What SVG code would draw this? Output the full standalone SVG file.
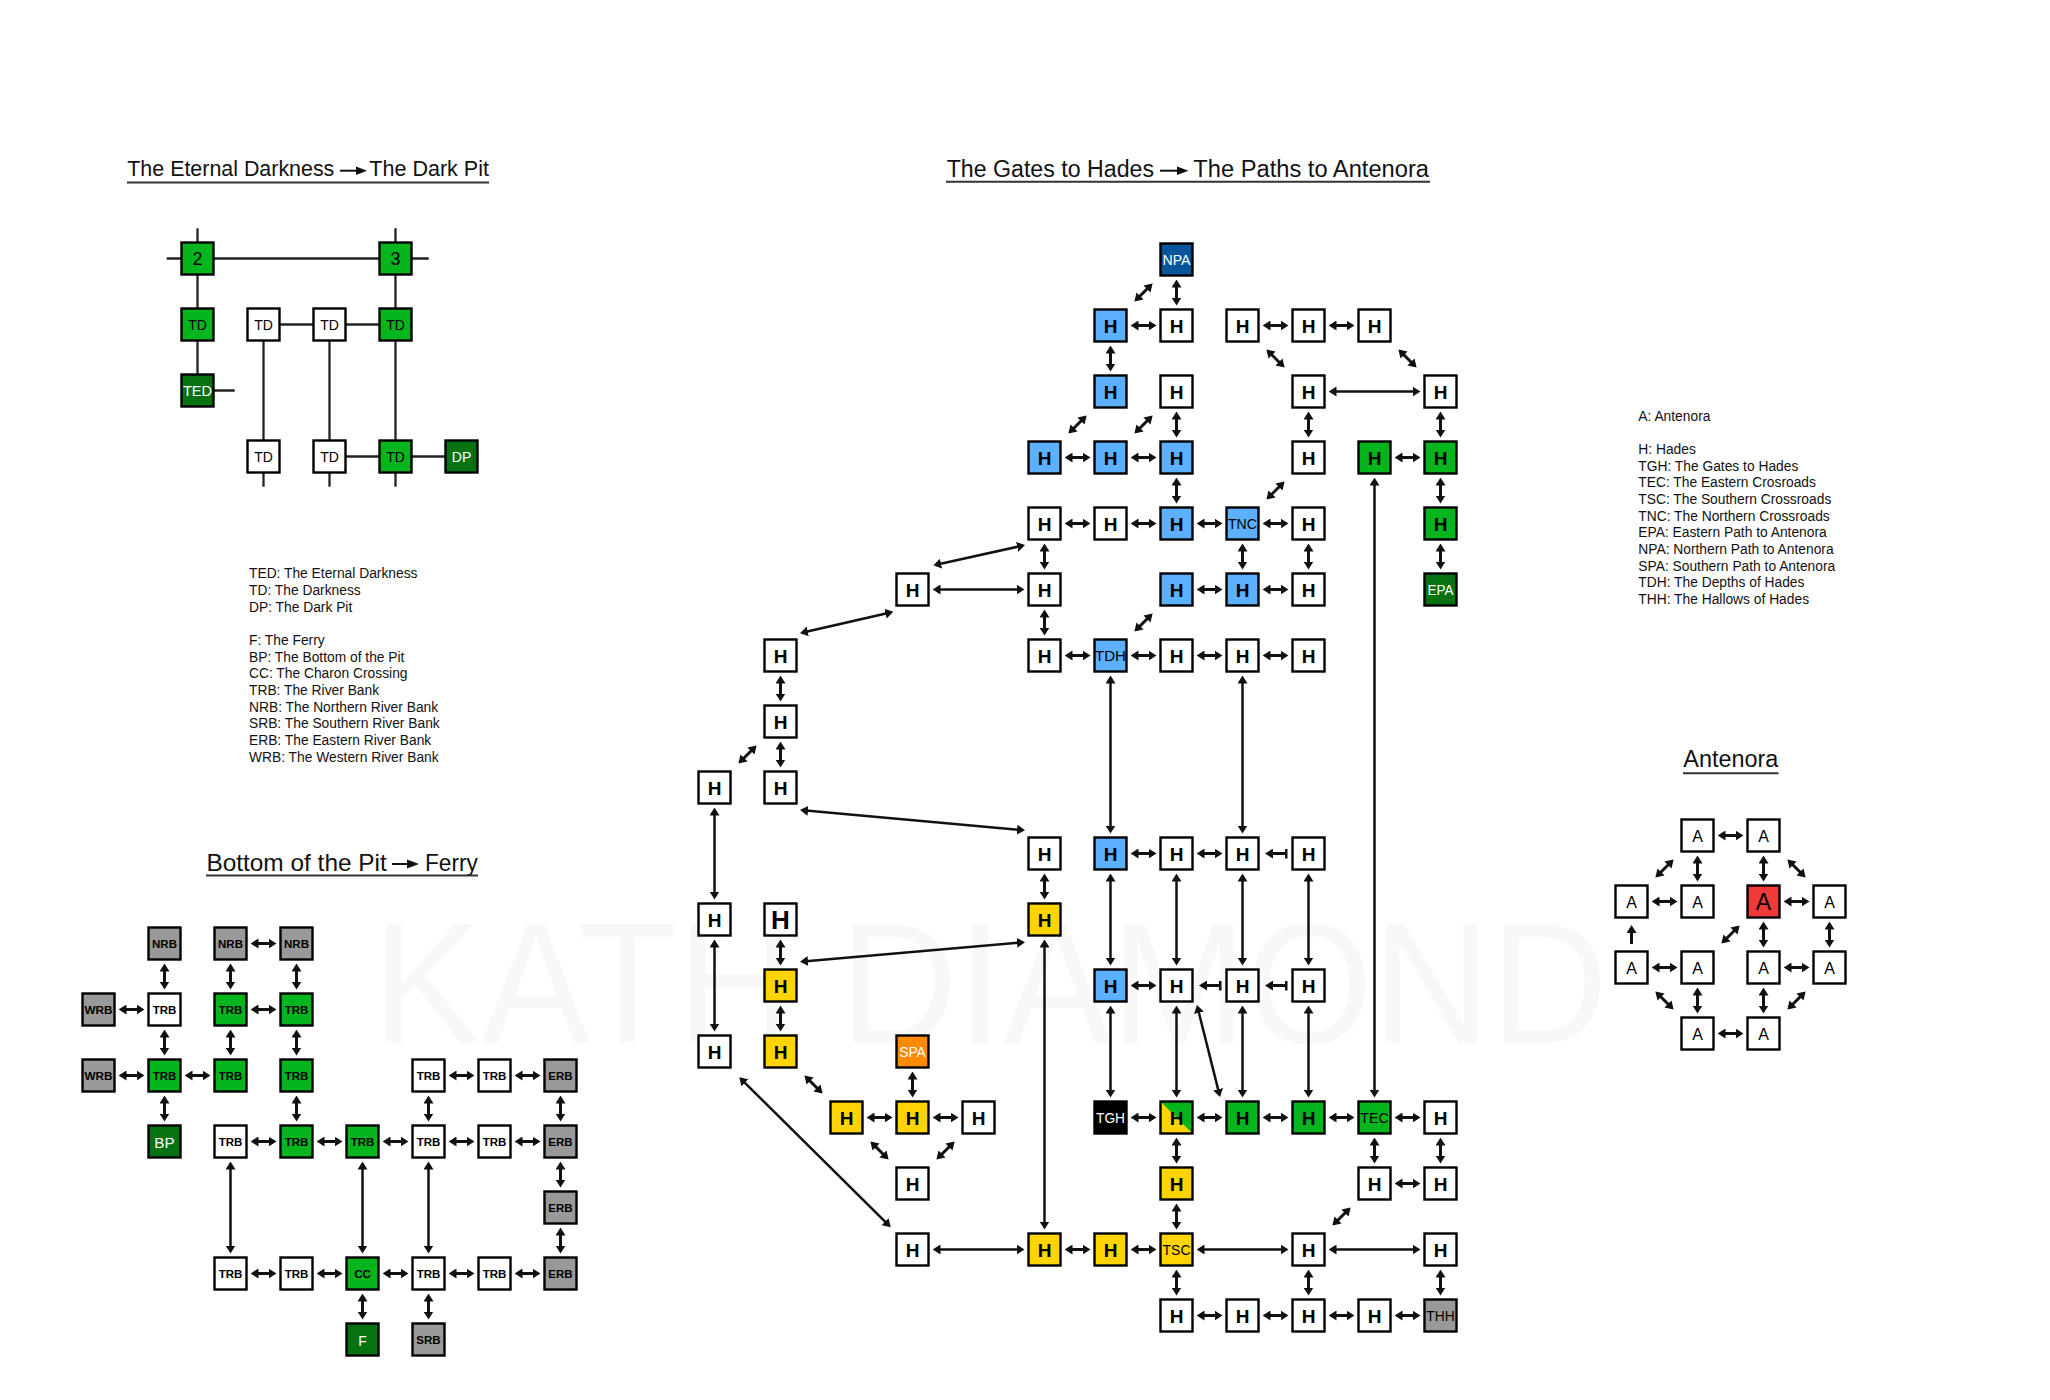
<svg xmlns="http://www.w3.org/2000/svg" width="2050" height="1400" viewBox="0 0 2050 1400">
<defs>
<marker id="ah" viewBox="0 0 8 10" refX="5" refY="5" markerWidth="8" markerHeight="10" markerUnits="userSpaceOnUse" orient="auto-start-reverse"><path d="M0,0 L8,5 L0,10 z" fill="#111"/></marker>
<marker id="bar" viewBox="0 0 3 10" refX="1.5" refY="5" markerWidth="3" markerHeight="10" markerUnits="userSpaceOnUse" orient="auto"><rect width="3" height="10" fill="#111"/></marker>
<style>
text{font-family:'Liberation Sans',Arial,sans-serif}
.n rect,.n polygon.o{stroke:#000;stroke-width:2.4}
.w{fill:#fff}.b{fill:#5cb0ff}.g{fill:#05b51d}.dg{fill:#067212}.db{fill:#08559b}.y{fill:#ffd400}.o{fill:#ff8a00}.k{fill:#000}.gr{fill:#999}.r{fill:#f33a3a}
.ol{fill:none}
.h{font-size:19px;font-weight:bold;text-anchor:middle;fill:#000}
.hb{font-size:26px;font-weight:bold;text-anchor:middle;fill:#000}
.l{font-size:15px;text-anchor:middle;fill:#000}
.lw{font-size:14px;text-anchor:middle;fill:#fff}
.s{font-size:11.5px;font-weight:bold;text-anchor:middle;fill:#000}
.td{font-size:14px;text-anchor:middle;fill:#000}
.num{font-size:18px;text-anchor:middle;fill:#000}
.a{font-size:16px;text-anchor:middle;fill:#000}
.ab{font-size:23px;text-anchor:middle;fill:#000}
.leg{font-size:13.8px;fill:#111}
.ttl{fill:#111}
.ul{stroke:#333;stroke-width:2}
.ta{stroke:#111;stroke-width:2}
.c{stroke:#111;stroke-width:3;fill:none;marker-start:url(#ah);marker-end:url(#ah)}
.cl{stroke-width:2.5}
.one{marker-start:none}
.br{marker-start:url(#bar)}
.p{stroke:#222;stroke-width:2.3}
.wm{font-size:172px;fill:#f8f8f8}
</style>
</defs>
<rect width="2050" height="1400" fill="#fff"/>
<text class="wm" x="373" y="1043" textLength="1235" lengthAdjust="spacingAndGlyphs">KATH DIAMOND</text>

<g id="titles">
<text class="ttl" x="127.3" y="176.3" font-size="22" textLength="207" lengthAdjust="spacingAndGlyphs">The Eternal Darkness</text>
<line class="ta" x1="340" y1="170.7" x2="358" y2="170.7"/><polygon points="356,166.5 367,170.7 356,175" fill="#111"/>
<text class="ttl" x="369.3" y="176.3" font-size="22" textLength="119.7" lengthAdjust="spacingAndGlyphs">The Dark Pit</text>
<line class="ul" x1="127" y1="182.5" x2="489" y2="182.5"/>

<text class="ttl" x="946.7" y="176.7" font-size="23" textLength="207.3" lengthAdjust="spacingAndGlyphs">The Gates to Hades</text>
<line class="ta" x1="1160" y1="170.7" x2="1179" y2="170.7"/><polygon points="1177,166.5 1188.5,170.7 1177,175" fill="#111"/>
<text class="ttl" x="1193.3" y="176.7" font-size="23" textLength="235.7" lengthAdjust="spacingAndGlyphs">The Paths to Antenora</text>
<line class="ul" x1="946" y1="181.7" x2="1430" y2="181.7"/>

<text class="ttl" x="206.4" y="870.7" font-size="24.5" textLength="180.4" lengthAdjust="spacingAndGlyphs">Bottom of the Pit</text>
<line class="ta" x1="392" y1="864" x2="409" y2="864"/><polygon points="407,859.5 419,864 407,868.5" fill="#111"/>
<text class="ttl" x="425" y="870.7" font-size="24.5" textLength="52.9" lengthAdjust="spacingAndGlyphs">Ferry</text>
<line class="ul" x1="206" y1="875.5" x2="478" y2="875.5"/>

<text class="ttl" x="1683.3" y="767.3" font-size="23.5" textLength="95" lengthAdjust="spacingAndGlyphs">Antenora</text>
<line class="ul" x1="1683" y1="773.3" x2="1778.5" y2="773.3"/>
</g>

<g id="legend-left">
<text x="249" y="578.3" class="leg">TED: The Eternal Darkness</text>
<text x="249" y="595" class="leg">TD: The Darkness</text>
<text x="249" y="611.7" class="leg">DP: The Dark Pit</text>
<text x="249" y="645" class="leg">F: The Ferry</text>
<text x="249" y="661.7" class="leg">BP: The Bottom of the Pit</text>
<text x="249" y="678.3" class="leg">CC: The Charon Crossing</text>
<text x="249" y="695" class="leg">TRB: The River Bank</text>
<text x="249" y="711.7" class="leg">NRB: The Northern River Bank</text>
<text x="249" y="728.3" class="leg">SRB: The Southern River Bank</text>
<text x="249" y="745" class="leg">ERB: The Eastern River Bank</text>
<text x="249" y="761.7" class="leg">WRB: The Western River Bank</text>
</g>
<g id="legend-right">
<text x="1638.3" y="420.7" class="leg">A: Antenora</text>
<text x="1638.3" y="454" class="leg">H: Hades</text>
<text x="1638.3" y="470.7" class="leg">TGH: The Gates to Hades</text>
<text x="1638.3" y="487.3" class="leg">TEC: The Eastern Crosroads</text>
<text x="1638.3" y="504" class="leg">TSC: The Southern Crossroads</text>
<text x="1638.3" y="520.7" class="leg">TNC: The Northern Crossroads</text>
<text x="1638.3" y="537.3" class="leg">EPA: Eastern Path to Antenora</text>
<text x="1638.3" y="554" class="leg">NPA: Northern Path to Antenora</text>
<text x="1638.3" y="570.7" class="leg">SPA: Southern Path to Antenora</text>
<text x="1638.3" y="587.3" class="leg">TDH: The Depths of Hades</text>
<text x="1638.3" y="604" class="leg">THH: The Hallows of Hades</text>
</g>

<g id="connectors">
<line class="p" x1="166.7" y1="258.5" x2="428.7" y2="258.5"/>
<line class="p" x1="197.5" y1="228.3" x2="197.5" y2="390.5"/>
<line class="p" x1="395.5" y1="228.3" x2="395.5" y2="486.7"/>
<line class="p" x1="197.5" y1="390.5" x2="234.7" y2="390.5"/>
<line class="p" x1="263.5" y1="324.5" x2="263.5" y2="486.7"/>
<line class="p" x1="329.5" y1="324.5" x2="329.5" y2="486.7"/>
<line class="p" x1="263.5" y1="324.5" x2="395.5" y2="324.5"/>
<line class="p" x1="329.5" y1="456.5" x2="461.5" y2="456.5"/>

<line class="c" x1="1133.5" y1="325.5" x2="1153.5" y2="325.5"/>
<line class="c" x1="1265.5" y1="325.5" x2="1285.5" y2="325.5"/>
<line class="c" x1="1331.5" y1="325.5" x2="1351.5" y2="325.5"/>
<line class="c" x1="1067.5" y1="457.5" x2="1087.5" y2="457.5"/>
<line class="c" x1="1133.5" y1="457.5" x2="1153.5" y2="457.5"/>
<line class="c" x1="1397.5" y1="457.5" x2="1417.5" y2="457.5"/>
<line class="c" x1="1067.5" y1="523.5" x2="1087.5" y2="523.5"/>
<line class="c" x1="1133.5" y1="523.5" x2="1153.5" y2="523.5"/>
<line class="c" x1="1199.5" y1="523.5" x2="1219.5" y2="523.5"/>
<line class="c" x1="1265.5" y1="523.5" x2="1285.5" y2="523.5"/>
<line class="c" x1="1199.5" y1="589.5" x2="1219.5" y2="589.5"/>
<line class="c" x1="1265.5" y1="589.5" x2="1285.5" y2="589.5"/>
<line class="c" x1="1067.5" y1="655.5" x2="1087.5" y2="655.5"/>
<line class="c" x1="1133.5" y1="655.5" x2="1153.5" y2="655.5"/>
<line class="c" x1="1199.5" y1="655.5" x2="1219.5" y2="655.5"/>
<line class="c" x1="1265.5" y1="655.5" x2="1285.5" y2="655.5"/>
<line class="c" x1="1133.5" y1="853.5" x2="1153.5" y2="853.5"/>
<line class="c" x1="1199.5" y1="853.5" x2="1219.5" y2="853.5"/>
<line class="c br" x1="1286" y1="853.5" x2="1268" y2="853.5"/>
<line class="c" x1="1133.5" y1="985.5" x2="1153.5" y2="985.5"/>
<line class="c br" x1="1220" y1="985.5" x2="1202" y2="985.5"/>
<line class="c br" x1="1286" y1="985.5" x2="1268" y2="985.5"/>
<line class="c" x1="869.5" y1="1117.5" x2="889.5" y2="1117.5"/>
<line class="c" x1="935.5" y1="1117.5" x2="955.5" y2="1117.5"/>
<line class="c" x1="1133.5" y1="1117.5" x2="1153.5" y2="1117.5"/>
<line class="c" x1="1199.5" y1="1117.5" x2="1219.5" y2="1117.5"/>
<line class="c" x1="1265.5" y1="1117.5" x2="1285.5" y2="1117.5"/>
<line class="c" x1="1331.5" y1="1117.5" x2="1351.5" y2="1117.5"/>
<line class="c" x1="1397.5" y1="1117.5" x2="1417.5" y2="1117.5"/>
<line class="c" x1="1397.5" y1="1183.5" x2="1417.5" y2="1183.5"/>
<line class="c" x1="1067.5" y1="1249.5" x2="1087.5" y2="1249.5"/>
<line class="c" x1="1133.5" y1="1249.5" x2="1153.5" y2="1249.5"/>
<line class="c" x1="1199.5" y1="1315.5" x2="1219.5" y2="1315.5"/>
<line class="c" x1="1265.5" y1="1315.5" x2="1285.5" y2="1315.5"/>
<line class="c" x1="1331.5" y1="1315.5" x2="1351.5" y2="1315.5"/>
<line class="c" x1="1397.5" y1="1315.5" x2="1417.5" y2="1315.5"/>

<line class="c" x1="1176.5" y1="282.5" x2="1176.5" y2="302.5"/>
<line class="c" x1="1176.5" y1="414.5" x2="1176.5" y2="434.5"/>
<line class="c" x1="1176.5" y1="480.5" x2="1176.5" y2="500.5"/>
<line class="c" x1="1176.5" y1="1140.5" x2="1176.5" y2="1160.5"/>
<line class="c" x1="1176.5" y1="1206.5" x2="1176.5" y2="1226.5"/>
<line class="c" x1="1176.5" y1="1272.5" x2="1176.5" y2="1292.5"/>
<line class="c" x1="1110.5" y1="348.5" x2="1110.5" y2="368.5"/>
<line class="c" x1="1308.5" y1="414.5" x2="1308.5" y2="434.5"/>
<line class="c" x1="1308.5" y1="546.5" x2="1308.5" y2="566.5"/>
<line class="c" x1="1308.5" y1="1272.5" x2="1308.5" y2="1292.5"/>
<line class="c" x1="1440.5" y1="414.5" x2="1440.5" y2="434.5"/>
<line class="c" x1="1440.5" y1="480.5" x2="1440.5" y2="500.5"/>
<line class="c" x1="1440.5" y1="546.5" x2="1440.5" y2="566.5"/>
<line class="c" x1="1440.5" y1="1140.5" x2="1440.5" y2="1160.5"/>
<line class="c" x1="1440.5" y1="1272.5" x2="1440.5" y2="1292.5"/>
<line class="c" x1="1242.5" y1="546.5" x2="1242.5" y2="566.5"/>
<line class="c" x1="1044.5" y1="546.5" x2="1044.5" y2="566.5"/>
<line class="c" x1="1044.5" y1="612.5" x2="1044.5" y2="632.5"/>
<line class="c" x1="1044.5" y1="876.5" x2="1044.5" y2="896.5"/>
<line class="c" x1="780.5" y1="678.5" x2="780.5" y2="698.5"/>
<line class="c" x1="780.5" y1="744.5" x2="780.5" y2="764.5"/>
<line class="c" x1="780.5" y1="942.5" x2="780.5" y2="962.5"/>
<line class="c" x1="780.5" y1="1008.5" x2="780.5" y2="1028.5"/>
<line class="c" x1="912.5" y1="1074.5" x2="912.5" y2="1094.5"/>
<line class="c" x1="1374.5" y1="1140.5" x2="1374.5" y2="1160.5"/>

<line class="c cl" x1="714.5" y1="810.5" x2="714.5" y2="896.5"/>
<line class="c cl" x1="714.5" y1="942.5" x2="714.5" y2="1028.5"/>
<line class="c cl" x1="1044.5" y1="942.5" x2="1044.5" y2="1226.5"/>
<line class="c cl" x1="1110.5" y1="678.5" x2="1110.5" y2="830.5"/>
<line class="c cl" x1="1110.5" y1="876.5" x2="1110.5" y2="962.5"/>
<line class="c cl" x1="1110.5" y1="1008.5" x2="1110.5" y2="1094.5"/>
<line class="c cl" x1="1176.5" y1="876.5" x2="1176.5" y2="962.5"/>
<line class="c cl" x1="1176.5" y1="1008.5" x2="1176.5" y2="1094.5"/>
<line class="c cl" x1="1242.5" y1="678.5" x2="1242.5" y2="830.5"/>
<line class="c cl" x1="1242.5" y1="876.5" x2="1242.5" y2="962.5"/>
<line class="c cl" x1="1242.5" y1="1008.5" x2="1242.5" y2="1094.5"/>
<line class="c cl" x1="1308.5" y1="876.5" x2="1308.5" y2="962.5"/>
<line class="c cl" x1="1308.5" y1="1008.5" x2="1308.5" y2="1094.5"/>
<line class="c cl" x1="1374.5" y1="480.5" x2="1374.5" y2="1094.5"/>
<line class="c cl" x1="1331.5" y1="391.5" x2="1417.5" y2="391.5"/>
<line class="c cl" x1="935.5" y1="589.5" x2="1021.5" y2="589.5"/>
<line class="c cl" x1="935.5" y1="1249.5" x2="1021.5" y2="1249.5"/>
<line class="c cl" x1="1199.5" y1="1249.5" x2="1285.5" y2="1249.5"/>
<line class="c cl" x1="1331.5" y1="1249.5" x2="1417.5" y2="1249.5"/>
<line class="c cl" x1="936.2" y1="564.7" x2="1022.1" y2="545.7"/>
<line class="c cl" x1="890.4" y1="612.5" x2="802.9" y2="632.5"/>
<line class="c cl" x1="803" y1="810.3" x2="1022" y2="830.1"/>
<line class="c cl" x1="803" y1="961.5" x2="1022" y2="942.4"/>
<line class="c cl" x1="741.4" y1="1079.4" x2="888.6" y2="1225.2"/>
<line class="c cl" x1="1197.7" y1="1007.9" x2="1219.3" y2="1094.1"/>

<line class="c" x1="1136.5" y1="299.5" x2="1150.5" y2="285.5"/>
<line class="c" x1="1268.5" y1="351.5" x2="1282.5" y2="365.5"/>
<line class="c" x1="1400.5" y1="351.5" x2="1414.5" y2="365.5"/>
<line class="c" x1="1070.5" y1="431.5" x2="1084.5" y2="417.5"/>
<line class="c" x1="1136.5" y1="431.5" x2="1150.5" y2="417.5"/>
<line class="c" x1="1268.5" y1="497.5" x2="1282.5" y2="483.5"/>
<line class="c" x1="1136.5" y1="629.5" x2="1150.5" y2="615.5"/>
<line class="c" x1="740.5" y1="761.5" x2="754.5" y2="747.5"/>
<line class="c" x1="806.5" y1="1077.5" x2="820.5" y2="1091.5"/>
<line class="c" x1="872.5" y1="1143.5" x2="886.5" y2="1157.5"/>
<line class="c" x1="938.5" y1="1157.5" x2="952.5" y2="1143.5"/>
<line class="c" x1="1334.5" y1="1223.5" x2="1348.5" y2="1209.5"/>

<line class="c" x1="253.5" y1="943.5" x2="273.5" y2="943.5"/>
<line class="c" x1="164.5" y1="966.5" x2="164.5" y2="986.5"/>
<line class="c" x1="230.5" y1="966.5" x2="230.5" y2="986.5"/>
<line class="c" x1="296.5" y1="966.5" x2="296.5" y2="986.5"/>
<line class="c" x1="121.5" y1="1009.5" x2="141.5" y2="1009.5"/>
<line class="c" x1="253.5" y1="1009.5" x2="273.5" y2="1009.5"/>
<line class="c" x1="164.5" y1="1032.5" x2="164.5" y2="1052.5"/>
<line class="c" x1="230.5" y1="1032.5" x2="230.5" y2="1052.5"/>
<line class="c" x1="296.5" y1="1032.5" x2="296.5" y2="1052.5"/>
<line class="c" x1="121.5" y1="1075.5" x2="141.5" y2="1075.5"/>
<line class="c" x1="187.5" y1="1075.5" x2="207.5" y2="1075.5"/>
<line class="c" x1="451.5" y1="1075.5" x2="471.5" y2="1075.5"/>
<line class="c" x1="517.5" y1="1075.5" x2="537.5" y2="1075.5"/>
<line class="c" x1="164.5" y1="1098.5" x2="164.5" y2="1118.5"/>
<line class="c" x1="296.5" y1="1098.5" x2="296.5" y2="1118.5"/>
<line class="c" x1="428.5" y1="1098.5" x2="428.5" y2="1118.5"/>
<line class="c" x1="560.5" y1="1098.5" x2="560.5" y2="1118.5"/>
<line class="c" x1="253.5" y1="1141.5" x2="273.5" y2="1141.5"/>
<line class="c" x1="319.5" y1="1141.5" x2="339.5" y2="1141.5"/>
<line class="c" x1="385.5" y1="1141.5" x2="405.5" y2="1141.5"/>
<line class="c" x1="451.5" y1="1141.5" x2="471.5" y2="1141.5"/>
<line class="c" x1="517.5" y1="1141.5" x2="537.5" y2="1141.5"/>
<line class="c" x1="560.5" y1="1164.5" x2="560.5" y2="1184.5"/>
<line class="c" x1="560.5" y1="1230.5" x2="560.5" y2="1250.5"/>
<line class="c cl" x1="230.5" y1="1164.5" x2="230.5" y2="1250.5"/>
<line class="c cl" x1="362.5" y1="1164.5" x2="362.5" y2="1250.5"/>
<line class="c cl" x1="428.5" y1="1164.5" x2="428.5" y2="1250.5"/>
<line class="c" x1="253.5" y1="1273.5" x2="273.5" y2="1273.5"/>
<line class="c" x1="319.5" y1="1273.5" x2="339.5" y2="1273.5"/>
<line class="c" x1="385.5" y1="1273.5" x2="405.5" y2="1273.5"/>
<line class="c" x1="451.5" y1="1273.5" x2="471.5" y2="1273.5"/>
<line class="c" x1="517.5" y1="1273.5" x2="537.5" y2="1273.5"/>
<line class="c" x1="362.5" y1="1296.5" x2="362.5" y2="1316.5"/>
<line class="c" x1="428.5" y1="1296.5" x2="428.5" y2="1316.5"/>

<line class="c" x1="1720.5" y1="835.5" x2="1740.5" y2="835.5"/>
<line class="c" x1="1697.5" y1="858.5" x2="1697.5" y2="878.5"/>
<line class="c" x1="1763.5" y1="858.5" x2="1763.5" y2="878.5"/>
<line class="c" x1="1654.5" y1="901.5" x2="1674.5" y2="901.5"/>
<line class="c" x1="1786.5" y1="901.5" x2="1806.5" y2="901.5"/>
<line class="c" x1="1763.5" y1="924.5" x2="1763.5" y2="944.5"/>
<line class="c" x1="1829.5" y1="924.5" x2="1829.5" y2="944.5"/>
<line class="c one" x1="1631.5" y1="944" x2="1631.5" y2="928"/>
<line class="c" x1="1654.5" y1="967.5" x2="1674.5" y2="967.5"/>
<line class="c" x1="1786.5" y1="967.5" x2="1806.5" y2="967.5"/>
<line class="c" x1="1697.5" y1="990.5" x2="1697.5" y2="1010.5"/>
<line class="c" x1="1763.5" y1="990.5" x2="1763.5" y2="1010.5"/>
<line class="c" x1="1720.5" y1="1033.5" x2="1740.5" y2="1033.5"/>
<line class="c" x1="1657.5" y1="875.5" x2="1671.5" y2="861.5"/>
<line class="c" x1="1789.5" y1="861.5" x2="1803.5" y2="875.5"/>
<line class="c" x1="1723.5" y1="941.5" x2="1737.5" y2="927.5"/>
<line class="c" x1="1657.5" y1="993.5" x2="1671.5" y2="1007.5"/>
<line class="c" x1="1789.5" y1="1007.5" x2="1803.5" y2="993.5"/>
</g>

<g id="ed-2" class="n" transform="translate(197.5,258.5)"><rect class="g" x="-16" y="-16" width="32" height="32"/><text class="num" y="6.5">2</text></g>
<g id="ed-3" class="n" transform="translate(395.5,258.5)"><rect class="g" x="-16" y="-16" width="32" height="32"/><text class="num" y="6.5">3</text></g>
<g id="ed-td1" class="n" transform="translate(197.5,324.5)"><rect class="g" x="-16" y="-16" width="32" height="32"/><text class="td" y="5">TD</text></g>
<g id="ed-td2" class="n" transform="translate(263.5,324.5)"><rect class="w" x="-16" y="-16" width="32" height="32"/><text class="td" y="5">TD</text></g>
<g id="ed-td3" class="n" transform="translate(329.5,324.5)"><rect class="w" x="-16" y="-16" width="32" height="32"/><text class="td" y="5">TD</text></g>
<g id="ed-td4" class="n" transform="translate(395.5,324.5)"><rect class="g" x="-16" y="-16" width="32" height="32"/><text class="td" y="5">TD</text></g>
<g id="ed-ted" class="n" transform="translate(197.5,390.5)"><rect class="dg" x="-16" y="-16" width="32" height="32"/><text class="lw" y="5" textLength="29" lengthAdjust="spacingAndGlyphs">TED</text></g>
<g id="ed-td5" class="n" transform="translate(263.5,456.5)"><rect class="w" x="-16" y="-16" width="32" height="32"/><text class="td" y="5">TD</text></g>
<g id="ed-td6" class="n" transform="translate(329.5,456.5)"><rect class="w" x="-16" y="-16" width="32" height="32"/><text class="td" y="5">TD</text></g>
<g id="ed-td7" class="n" transform="translate(395.5,456.5)"><rect class="g" x="-16" y="-16" width="32" height="32"/><text class="td" y="5">TD</text></g>
<g id="ed-dp" class="n" transform="translate(461.5,456.5)"><rect class="dg" x="-16" y="-16" width="32" height="32"/><text class="lw" y="5">DP</text></g>

<g id="npa" class="n" transform="translate(1176.5,259.5)"><rect class="db" x="-16" y="-16" width="32" height="32"/><text class="lw" y="5" font-size="13.5" textLength="28" lengthAdjust="spacingAndGlyphs">NPA</text></g>
<g id="h-6-1" class="n" transform="translate(1110.5,325.5)"><rect class="b" x="-16" y="-16" width="32" height="32"/><text class="h" y="7">H</text></g>
<g id="h-7-1" class="n" transform="translate(1176.5,325.5)"><rect class="w" x="-16" y="-16" width="32" height="32"/><text class="h" y="7">H</text></g>
<g id="h-8-1" class="n" transform="translate(1242.5,325.5)"><rect class="w" x="-16" y="-16" width="32" height="32"/><text class="h" y="7">H</text></g>
<g id="h-9-1" class="n" transform="translate(1308.5,325.5)"><rect class="w" x="-16" y="-16" width="32" height="32"/><text class="h" y="7">H</text></g>
<g id="h-10-1" class="n" transform="translate(1374.5,325.5)"><rect class="w" x="-16" y="-16" width="32" height="32"/><text class="h" y="7">H</text></g>
<g id="h-6-2" class="n" transform="translate(1110.5,391.5)"><rect class="b" x="-16" y="-16" width="32" height="32"/><text class="h" y="7">H</text></g>
<g id="h-7-2" class="n" transform="translate(1176.5,391.5)"><rect class="w" x="-16" y="-16" width="32" height="32"/><text class="h" y="7">H</text></g>
<g id="h-9-2" class="n" transform="translate(1308.5,391.5)"><rect class="w" x="-16" y="-16" width="32" height="32"/><text class="h" y="7">H</text></g>
<g id="h-11-2" class="n" transform="translate(1440.5,391.5)"><rect class="w" x="-16" y="-16" width="32" height="32"/><text class="h" y="7">H</text></g>
<g id="h-5-3" class="n" transform="translate(1044.5,457.5)"><rect class="b" x="-16" y="-16" width="32" height="32"/><text class="h" y="7">H</text></g>
<g id="h-6-3" class="n" transform="translate(1110.5,457.5)"><rect class="b" x="-16" y="-16" width="32" height="32"/><text class="h" y="7">H</text></g>
<g id="h-7-3" class="n" transform="translate(1176.5,457.5)"><rect class="b" x="-16" y="-16" width="32" height="32"/><text class="h" y="7">H</text></g>
<g id="h-9-3" class="n" transform="translate(1308.5,457.5)"><rect class="w" x="-16" y="-16" width="32" height="32"/><text class="h" y="7">H</text></g>
<g id="h-10-3" class="n" transform="translate(1374.5,457.5)"><rect class="g" x="-16" y="-16" width="32" height="32"/><text class="h" y="7">H</text></g>
<g id="h-11-3" class="n" transform="translate(1440.5,457.5)"><rect class="g" x="-16" y="-16" width="32" height="32"/><text class="h" y="7">H</text></g>
<g id="h-5-4" class="n" transform="translate(1044.5,523.5)"><rect class="w" x="-16" y="-16" width="32" height="32"/><text class="h" y="7">H</text></g>
<g id="h-6-4" class="n" transform="translate(1110.5,523.5)"><rect class="w" x="-16" y="-16" width="32" height="32"/><text class="h" y="7">H</text></g>
<g id="h-7-4" class="n" transform="translate(1176.5,523.5)"><rect class="b" x="-16" y="-16" width="32" height="32"/><text class="h" y="7">H</text></g>
<g id="tnc" class="n" transform="translate(1242.5,523.5)"><rect class="b" x="-16" y="-16" width="32" height="32"/><text class="l" y="5.5" textLength="29" lengthAdjust="spacingAndGlyphs">TNC</text></g>
<g id="h-9-4" class="n" transform="translate(1308.5,523.5)"><rect class="w" x="-16" y="-16" width="32" height="32"/><text class="h" y="7">H</text></g>
<g id="h-11-4" class="n" transform="translate(1440.5,523.5)"><rect class="g" x="-16" y="-16" width="32" height="32"/><text class="h" y="7">H</text></g>
<g id="h-3-5" class="n" transform="translate(912.5,589.5)"><rect class="w" x="-16" y="-16" width="32" height="32"/><text class="h" y="7">H</text></g>
<g id="h-5-5" class="n" transform="translate(1044.5,589.5)"><rect class="w" x="-16" y="-16" width="32" height="32"/><text class="h" y="7">H</text></g>
<g id="h-7-5" class="n" transform="translate(1176.5,589.5)"><rect class="b" x="-16" y="-16" width="32" height="32"/><text class="h" y="7">H</text></g>
<g id="h-8-5" class="n" transform="translate(1242.5,589.5)"><rect class="b" x="-16" y="-16" width="32" height="32"/><text class="h" y="7">H</text></g>
<g id="h-9-5" class="n" transform="translate(1308.5,589.5)"><rect class="w" x="-16" y="-16" width="32" height="32"/><text class="h" y="7">H</text></g>
<g id="epa" class="n" transform="translate(1440.5,589.5)"><rect class="dg" x="-16" y="-16" width="32" height="32"/><text class="lw" y="5" font-size="13" textLength="26" lengthAdjust="spacingAndGlyphs">EPA</text></g>
<g id="h-1-6" class="n" transform="translate(780.5,655.5)"><rect class="w" x="-16" y="-16" width="32" height="32"/><text class="h" y="7">H</text></g>
<g id="h-5-6" class="n" transform="translate(1044.5,655.5)"><rect class="w" x="-16" y="-16" width="32" height="32"/><text class="h" y="7">H</text></g>
<g id="tdh" class="n" transform="translate(1110.5,655.5)"><rect class="b" x="-16" y="-16" width="32" height="32"/><text class="l" y="5.5" textLength="31" lengthAdjust="spacingAndGlyphs">TDH</text></g>
<g id="h-7-6" class="n" transform="translate(1176.5,655.5)"><rect class="w" x="-16" y="-16" width="32" height="32"/><text class="h" y="7">H</text></g>
<g id="h-8-6" class="n" transform="translate(1242.5,655.5)"><rect class="w" x="-16" y="-16" width="32" height="32"/><text class="h" y="7">H</text></g>
<g id="h-9-6" class="n" transform="translate(1308.5,655.5)"><rect class="w" x="-16" y="-16" width="32" height="32"/><text class="h" y="7">H</text></g>
<g id="h-1-7" class="n" transform="translate(780.5,721.5)"><rect class="w" x="-16" y="-16" width="32" height="32"/><text class="h" y="7">H</text></g>
<g id="h-0-8" class="n" transform="translate(714.5,787.5)"><rect class="w" x="-16" y="-16" width="32" height="32"/><text class="h" y="7">H</text></g>
<g id="h-1-8" class="n" transform="translate(780.5,787.5)"><rect class="w" x="-16" y="-16" width="32" height="32"/><text class="h" y="7">H</text></g>
<g id="h-5-9" class="n" transform="translate(1044.5,853.5)"><rect class="w" x="-16" y="-16" width="32" height="32"/><text class="h" y="7">H</text></g>
<g id="h-6-9" class="n" transform="translate(1110.5,853.5)"><rect class="b" x="-16" y="-16" width="32" height="32"/><text class="h" y="7">H</text></g>
<g id="h-7-9" class="n" transform="translate(1176.5,853.5)"><rect class="w" x="-16" y="-16" width="32" height="32"/><text class="h" y="7">H</text></g>
<g id="h-8-9" class="n" transform="translate(1242.5,853.5)"><rect class="w" x="-16" y="-16" width="32" height="32"/><text class="h" y="7">H</text></g>
<g id="h-9-9" class="n" transform="translate(1308.5,853.5)"><rect class="w" x="-16" y="-16" width="32" height="32"/><text class="h" y="7">H</text></g>
<g id="h-0-10" class="n" transform="translate(714.5,919.5)"><rect class="w" x="-16" y="-16" width="32" height="32"/><text class="h" y="7">H</text></g>
<g id="h-1-10" class="n" transform="translate(780.5,919.5)"><rect class="w" x="-16" y="-16" width="32" height="32"/><text class="hb" y="9.5">H</text></g>
<g id="h-5-10" class="n" transform="translate(1044.5,919.5)"><rect class="y" x="-16" y="-16" width="32" height="32"/><text class="h" y="7">H</text></g>
<g id="h-1-11" class="n" transform="translate(780.5,985.5)"><rect class="y" x="-16" y="-16" width="32" height="32"/><text class="h" y="7">H</text></g>
<g id="h-6-11" class="n" transform="translate(1110.5,985.5)"><rect class="b" x="-16" y="-16" width="32" height="32"/><text class="h" y="7">H</text></g>
<g id="h-7-11" class="n" transform="translate(1176.5,985.5)"><rect class="w" x="-16" y="-16" width="32" height="32"/><text class="h" y="7">H</text></g>
<g id="h-8-11" class="n" transform="translate(1242.5,985.5)"><rect class="w" x="-16" y="-16" width="32" height="32"/><text class="h" y="7">H</text></g>
<g id="h-9-11" class="n" transform="translate(1308.5,985.5)"><rect class="w" x="-16" y="-16" width="32" height="32"/><text class="h" y="7">H</text></g>
<g id="h-0-12" class="n" transform="translate(714.5,1051.5)"><rect class="w" x="-16" y="-16" width="32" height="32"/><text class="h" y="7">H</text></g>
<g id="h-1-12" class="n" transform="translate(780.5,1051.5)"><rect class="y" x="-16" y="-16" width="32" height="32"/><text class="h" y="7">H</text></g>
<g id="spa" class="n" transform="translate(912.5,1051.5)"><rect class="o" x="-16" y="-16" width="32" height="32"/><text class="lw" y="5" font-size="13" textLength="26.7" lengthAdjust="spacingAndGlyphs">SPA</text></g>
<g id="h-2-13" class="n" transform="translate(846.5,1117.5)"><rect class="y" x="-16" y="-16" width="32" height="32"/><text class="h" y="7">H</text></g>
<g id="h-3-13" class="n" transform="translate(912.5,1117.5)"><rect class="y" x="-16" y="-16" width="32" height="32"/><text class="h" y="7">H</text></g>
<g id="h-4-13" class="n" transform="translate(978.5,1117.5)"><rect class="w" x="-16" y="-16" width="32" height="32"/><text class="h" y="7">H</text></g>
<g id="tgh" class="n" transform="translate(1110.5,1117.5)"><rect class="k" x="-16" y="-16" width="32" height="32"/><text class="lw" y="5.5" font-size="15" textLength="29" lengthAdjust="spacingAndGlyphs">TGH</text></g>
<g id="h-7-13" class="n" transform="translate(1176.5,1117.5)"><rect class="y" x="-16" y="-16" width="32" height="32" style="stroke:none"/><polygon class="g" points="-16,-16 16,-16 16,16"/><rect class="ol" x="-16" y="-16" width="32" height="32"/><text class="h" y="7">H</text></g>
<g id="h-8-13" class="n" transform="translate(1242.5,1117.5)"><rect class="g" x="-16" y="-16" width="32" height="32"/><text class="h" y="7">H</text></g>
<g id="h-9-13" class="n" transform="translate(1308.5,1117.5)"><rect class="g" x="-16" y="-16" width="32" height="32"/><text class="h" y="7">H</text></g>
<g id="tec" class="n" transform="translate(1374.5,1117.5)"><rect class="g" x="-16" y="-16" width="32" height="32"/><text class="l" y="5.5" textLength="28.3" lengthAdjust="spacingAndGlyphs">TEC</text></g>
<g id="h-11-13" class="n" transform="translate(1440.5,1117.5)"><rect class="w" x="-16" y="-16" width="32" height="32"/><text class="h" y="7">H</text></g>
<g id="h-3-14" class="n" transform="translate(912.5,1183.5)"><rect class="w" x="-16" y="-16" width="32" height="32"/><text class="h" y="7">H</text></g>
<g id="h-7-14" class="n" transform="translate(1176.5,1183.5)"><rect class="y" x="-16" y="-16" width="32" height="32"/><text class="h" y="7">H</text></g>
<g id="h-10-14" class="n" transform="translate(1374.5,1183.5)"><rect class="w" x="-16" y="-16" width="32" height="32"/><text class="h" y="7">H</text></g>
<g id="h-11-14" class="n" transform="translate(1440.5,1183.5)"><rect class="w" x="-16" y="-16" width="32" height="32"/><text class="h" y="7">H</text></g>
<g id="h-3-15" class="n" transform="translate(912.5,1249.5)"><rect class="w" x="-16" y="-16" width="32" height="32"/><text class="h" y="7">H</text></g>
<g id="h-5-15" class="n" transform="translate(1044.5,1249.5)"><rect class="y" x="-16" y="-16" width="32" height="32"/><text class="h" y="7">H</text></g>
<g id="h-6-15" class="n" transform="translate(1110.5,1249.5)"><rect class="y" x="-16" y="-16" width="32" height="32"/><text class="h" y="7">H</text></g>
<g id="tsc" class="n" transform="translate(1176.5,1249.5)"><rect class="y" x="-16" y="-16" width="32" height="32"/><text class="l" y="5.5" textLength="28" lengthAdjust="spacingAndGlyphs">TSC</text></g>
<g id="h-9-15" class="n" transform="translate(1308.5,1249.5)"><rect class="w" x="-16" y="-16" width="32" height="32"/><text class="h" y="7">H</text></g>
<g id="h-11-15" class="n" transform="translate(1440.5,1249.5)"><rect class="w" x="-16" y="-16" width="32" height="32"/><text class="h" y="7">H</text></g>
<g id="h-7-16" class="n" transform="translate(1176.5,1315.5)"><rect class="w" x="-16" y="-16" width="32" height="32"/><text class="h" y="7">H</text></g>
<g id="h-8-16" class="n" transform="translate(1242.5,1315.5)"><rect class="w" x="-16" y="-16" width="32" height="32"/><text class="h" y="7">H</text></g>
<g id="h-9-16" class="n" transform="translate(1308.5,1315.5)"><rect class="w" x="-16" y="-16" width="32" height="32"/><text class="h" y="7">H</text></g>
<g id="h-10-16" class="n" transform="translate(1374.5,1315.5)"><rect class="w" x="-16" y="-16" width="32" height="32"/><text class="h" y="7">H</text></g>
<g id="thh" class="n" transform="translate(1440.5,1315.5)"><rect class="gr" x="-16" y="-16" width="32" height="32"/><text class="l" y="5.5" textLength="28.3" lengthAdjust="spacingAndGlyphs">THH</text></g>

<g id="nrb-1" class="n" transform="translate(164.5,943.5)"><rect class="gr" x="-16" y="-16" width="32" height="32"/><text class="s" y="4">NRB</text></g>
<g id="nrb-2" class="n" transform="translate(230.5,943.5)"><rect class="gr" x="-16" y="-16" width="32" height="32"/><text class="s" y="4">NRB</text></g>
<g id="nrb-3" class="n" transform="translate(296.5,943.5)"><rect class="gr" x="-16" y="-16" width="32" height="32"/><text class="s" y="4">NRB</text></g>
<g id="wrb-1" class="n" transform="translate(98.5,1009.5)"><rect class="gr" x="-16" y="-16" width="32" height="32"/><text class="s" y="4" textLength="28" lengthAdjust="spacingAndGlyphs">WRB</text></g>
<g id="trb-1-1" class="n" transform="translate(164.5,1009.5)"><rect class="w" x="-16" y="-16" width="32" height="32"/><text class="s" y="4">TRB</text></g>
<g id="trb-2-1" class="n" transform="translate(230.5,1009.5)"><rect class="g" x="-16" y="-16" width="32" height="32"/><text class="s" y="4">TRB</text></g>
<g id="trb-3-1" class="n" transform="translate(296.5,1009.5)"><rect class="g" x="-16" y="-16" width="32" height="32"/><text class="s" y="4">TRB</text></g>
<g id="wrb-2" class="n" transform="translate(98.5,1075.5)"><rect class="gr" x="-16" y="-16" width="32" height="32"/><text class="s" y="4" textLength="28" lengthAdjust="spacingAndGlyphs">WRB</text></g>
<g id="trb-1-2" class="n" transform="translate(164.5,1075.5)"><rect class="g" x="-16" y="-16" width="32" height="32"/><text class="s" y="4">TRB</text></g>
<g id="trb-2-2" class="n" transform="translate(230.5,1075.5)"><rect class="g" x="-16" y="-16" width="32" height="32"/><text class="s" y="4">TRB</text></g>
<g id="trb-3-2" class="n" transform="translate(296.5,1075.5)"><rect class="g" x="-16" y="-16" width="32" height="32"/><text class="s" y="4">TRB</text></g>
<g id="trb-5-2" class="n" transform="translate(428.5,1075.5)"><rect class="w" x="-16" y="-16" width="32" height="32"/><text class="s" y="4">TRB</text></g>
<g id="trb-6-2" class="n" transform="translate(494.5,1075.5)"><rect class="w" x="-16" y="-16" width="32" height="32"/><text class="s" y="4">TRB</text></g>
<g id="erb-2" class="n" transform="translate(560.5,1075.5)"><rect class="gr" x="-16" y="-16" width="32" height="32"/><text class="s" y="4">ERB</text></g>
<g id="bp" class="n" transform="translate(164.5,1141.5)"><rect class="dg" x="-16" y="-16" width="32" height="32"/><text class="lw" y="6.5" font-size="17" textLength="20.4" lengthAdjust="spacingAndGlyphs">BP</text></g>
<g id="trb-2-3" class="n" transform="translate(230.5,1141.5)"><rect class="w" x="-16" y="-16" width="32" height="32"/><text class="s" y="4">TRB</text></g>
<g id="trb-3-3" class="n" transform="translate(296.5,1141.5)"><rect class="g" x="-16" y="-16" width="32" height="32"/><text class="s" y="4">TRB</text></g>
<g id="trb-4-3" class="n" transform="translate(362.5,1141.5)"><rect class="g" x="-16" y="-16" width="32" height="32"/><text class="s" y="4">TRB</text></g>
<g id="trb-5-3" class="n" transform="translate(428.5,1141.5)"><rect class="w" x="-16" y="-16" width="32" height="32"/><text class="s" y="4">TRB</text></g>
<g id="trb-6-3" class="n" transform="translate(494.5,1141.5)"><rect class="w" x="-16" y="-16" width="32" height="32"/><text class="s" y="4">TRB</text></g>
<g id="erb-3" class="n" transform="translate(560.5,1141.5)"><rect class="gr" x="-16" y="-16" width="32" height="32"/><text class="s" y="4">ERB</text></g>
<g id="erb-4" class="n" transform="translate(560.5,1207.5)"><rect class="gr" x="-16" y="-16" width="32" height="32"/><text class="s" y="4">ERB</text></g>
<g id="trb-2-5" class="n" transform="translate(230.5,1273.5)"><rect class="w" x="-16" y="-16" width="32" height="32"/><text class="s" y="4">TRB</text></g>
<g id="trb-3-5" class="n" transform="translate(296.5,1273.5)"><rect class="w" x="-16" y="-16" width="32" height="32"/><text class="s" y="4">TRB</text></g>
<g id="cc" class="n" transform="translate(362.5,1273.5)"><rect class="g" x="-16" y="-16" width="32" height="32"/><text class="s" y="4" font-weight="normal">CC</text></g>
<g id="trb-5-5" class="n" transform="translate(428.5,1273.5)"><rect class="w" x="-16" y="-16" width="32" height="32"/><text class="s" y="4">TRB</text></g>
<g id="trb-6-5" class="n" transform="translate(494.5,1273.5)"><rect class="w" x="-16" y="-16" width="32" height="32"/><text class="s" y="4">TRB</text></g>
<g id="erb-5" class="n" transform="translate(560.5,1273.5)"><rect class="gr" x="-16" y="-16" width="32" height="32"/><text class="s" y="4">ERB</text></g>
<g id="ferry" class="n" transform="translate(362.5,1339.5)"><rect class="dg" x="-16" y="-16" width="32" height="32"/><text class="lw" y="6.5" font-size="18">F</text></g>
<g id="srb" class="n" transform="translate(428.5,1339.5)"><rect class="gr" x="-16" y="-16" width="32" height="32"/><text class="s" y="4">SRB</text></g>

<g id="a-1-0" class="n" transform="translate(1697.5,835.5)"><rect class="w" x="-16" y="-16" width="32" height="32"/><text class="a" y="6">A</text></g>
<g id="a-2-0" class="n" transform="translate(1763.5,835.5)"><rect class="w" x="-16" y="-16" width="32" height="32"/><text class="a" y="6">A</text></g>
<g id="a-0-1" class="n" transform="translate(1631.5,901.5)"><rect class="w" x="-16" y="-16" width="32" height="32"/><text class="a" y="6">A</text></g>
<g id="a-1-1" class="n" transform="translate(1697.5,901.5)"><rect class="w" x="-16" y="-16" width="32" height="32"/><text class="a" y="6">A</text></g>
<g id="a-2-1" class="n" transform="translate(1763.5,901.5)"><rect class="r" x="-16" y="-16" width="32" height="32"/><text class="ab" y="8.5">A</text></g>
<g id="a-3-1" class="n" transform="translate(1829.5,901.5)"><rect class="w" x="-16" y="-16" width="32" height="32"/><text class="a" y="6">A</text></g>
<g id="a-0-2" class="n" transform="translate(1631.5,967.5)"><rect class="w" x="-16" y="-16" width="32" height="32"/><text class="a" y="6">A</text></g>
<g id="a-1-2" class="n" transform="translate(1697.5,967.5)"><rect class="w" x="-16" y="-16" width="32" height="32"/><text class="a" y="6">A</text></g>
<g id="a-2-2" class="n" transform="translate(1763.5,967.5)"><rect class="w" x="-16" y="-16" width="32" height="32"/><text class="a" y="6">A</text></g>
<g id="a-3-2" class="n" transform="translate(1829.5,967.5)"><rect class="w" x="-16" y="-16" width="32" height="32"/><text class="a" y="6">A</text></g>
<g id="a-1-3" class="n" transform="translate(1697.5,1033.5)"><rect class="w" x="-16" y="-16" width="32" height="32"/><text class="a" y="6">A</text></g>
<g id="a-2-3" class="n" transform="translate(1763.5,1033.5)"><rect class="w" x="-16" y="-16" width="32" height="32"/><text class="a" y="6">A</text></g>
</svg>
